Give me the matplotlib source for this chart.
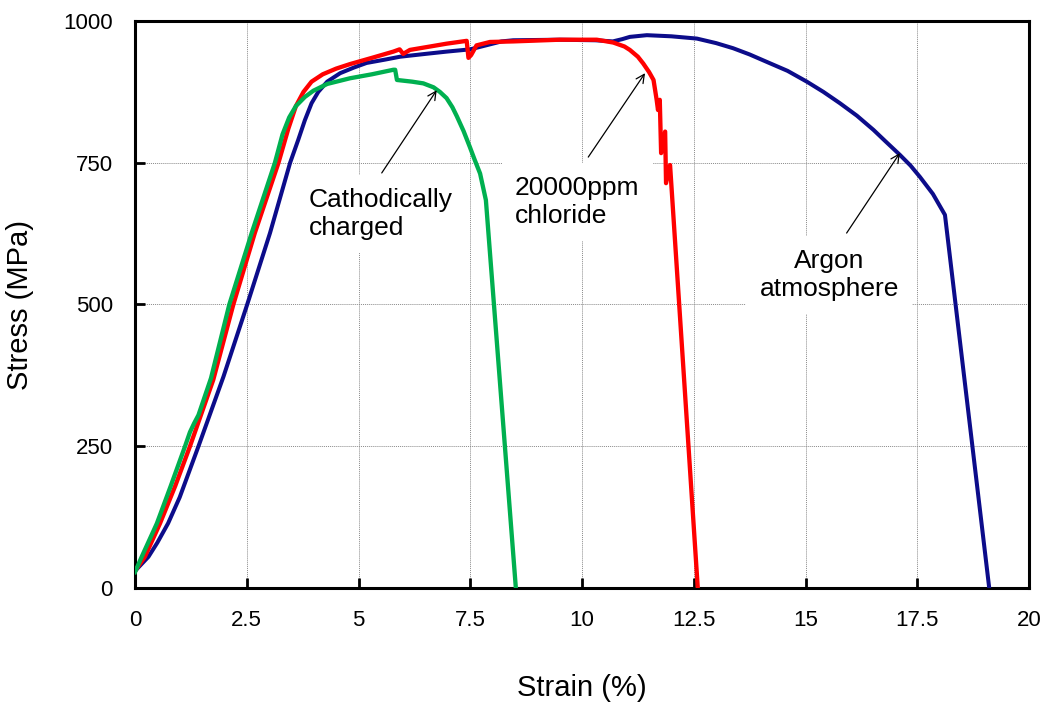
import matplotlib
matplotlib.use("Agg")
import matplotlib.pyplot as plt

plt.rcParams["font.family"] = ["Liberation Sans", "DejaVu Sans"]

# Tensile curves: strain (%) vs engineering stress (MPa)
argon_strain = [0, 0.3, 0.5, 0.74, 1.0, 1.42, 1.98, 2.51, 3.02, 3.47, 3.65, 3.8,
                3.95, 4.1, 4.3, 4.59, 4.9, 5.18, 5.6, 5.93, 6.5, 6.97, 7.5, 7.9,
                8.2, 8.46, 9.5, 10.3, 10.69, 10.9, 11.07, 11.45, 12.0, 12.57,
                13.0, 13.38, 13.75, 14.13, 14.6, 15.03, 15.4, 15.77, 16.15,
                16.52, 16.8, 17.11, 17.35, 17.56, 17.85, 18.12, 19.11]
argon_stress = [30, 55, 80, 114, 160, 250, 373, 500, 626, 750, 790, 825,
                855, 875, 893, 908, 918, 926, 932, 937, 942, 946, 950, 958,
                964, 966, 967, 966, 964, 968, 972, 975, 973, 969,
                961, 952, 941, 928, 912, 893, 875, 855, 833,
                808, 787, 764, 745, 725, 695, 658, 0]

chloride_strain = [0, 0.22, 0.56, 0.9, 1.23, 1.75, 2.2, 2.68, 3.21, 3.43, 3.6,
                   3.77, 3.95, 4.2, 4.5, 4.81, 5.3, 5.78, 5.92, 6.0, 6.15, 6.6,
                   6.97, 7.42, 7.46, 7.52, 7.64, 7.94, 8.46, 9.5, 10.33, 10.7,
                   10.95, 11.07, 11.25, 11.37, 11.5, 11.6, 11.67, 11.70, 11.74,
                   11.77, 11.86, 11.88, 11.97, 12.59]
chloride_stress = [30, 55, 114, 180, 250, 367, 500, 626, 750, 810, 850,
                   875, 893, 906, 916, 924, 935, 946, 950, 942, 949, 955,
                   960, 965, 935, 940, 957, 963, 964, 967, 967, 962,
                   955, 949, 937, 925, 910, 896, 861, 843, 861,
                   767, 805, 714, 746, 0]

cathodic_strain = [0, 0.15, 0.49, 0.8, 1.12, 1.23, 1.32, 1.42, 1.7, 2.11, 2.61,
                   3.13, 3.3, 3.45, 3.6, 3.8, 3.99, 4.3, 4.81, 5.3, 5.78, 5.82,
                   5.86, 6.2, 6.45, 6.68, 6.82, 6.97, 7.1, 7.2, 7.35, 7.49, 7.6,
                   7.72, 7.85, 8.52]
cathodic_stress = [28, 55, 114, 180, 250, 275, 290, 305, 370, 500, 626,
                   750, 800, 830, 850, 866, 877, 889, 899, 906, 914, 914,
                   896, 893, 890, 883, 875, 864, 848, 832, 806, 778, 755,
                   731, 684, 0]

x_ticks = [0, 2.5, 5, 7.5, 10, 12.5, 15, 17.5, 20]
x_tick_labels = ["0", "2.5", "5", "7.5", "10", "12.5", "15", "17.5", "20"]
y_ticks = [0, 250, 500, 750, 1000]
y_tick_labels = ["0", "250", "500", "750", "1000"]

fig = plt.figure(figsize=(10.46, 7.04), dpi=100)
ax = fig.add_axes([135 / 1046, 116 / 704, 894 / 1046, 567 / 704])

ax.plot(argon_strain, argon_stress, color="#0c0c8a", lw=2.9, zorder=3,
        solid_joinstyle="round")
ax.plot(chloride_strain, chloride_stress, color="#ff0000", lw=3.1, zorder=3,
        solid_joinstyle="round")
ax.plot(cathodic_strain, cathodic_stress, color="#00b050", lw=3.1, zorder=3,
        solid_joinstyle="round")

ax.set_xlim(0, 20)
ax.set_ylim(0, 1000)
ax.set_xticks(x_ticks)
ax.set_xticklabels(x_tick_labels)
ax.set_yticks(y_ticks)
ax.set_yticklabels(y_tick_labels)
ax.tick_params(direction="in", length=7, width=2, labelsize=16, pad=16,
               color="black")
for sp in ax.spines.values():
    sp.set_linewidth(2.2)
    sp.set_color("black")

ax.set_axisbelow(True)
ax.grid(True, color="#8a8a8a", linestyle=(0, (1, 1)), linewidth=0.7)

ax.set_xlabel("Strain (%)", fontsize=21, va="center")
ax.xaxis.set_label_coords(0.5, -0.176)
ax.set_ylabel("Stress (MPa)", fontsize=21, va="center")
ax.yaxis.set_label_coords(-0.1286, 0.5)

box = dict(facecolor="white", edgecolor="none", boxstyle="square,pad=0.5")
arrow = dict(arrowstyle="->,head_length=0.6,head_width=0.3", color="black",
             lw=0.9, shrinkA=0, shrinkB=0)

ax.text(3.88, 660, "Cathodically\ncharged", ha="left", va="center",
        fontsize=19, linespacing=1.2, bbox=box, zorder=2.5)
ax.annotate("", xy=(6.75, 878), xytext=(5.52, 732), arrowprops=arrow, zorder=4)

ax.text(8.5, 681, "20000ppm\nchloride", ha="left", va="center",
        fontsize=19, linespacing=1.2, bbox=box, zorder=2.5)
ax.annotate("", xy=(11.41, 908), xytext=(10.14, 760), arrowprops=arrow, zorder=4)

ax.text(15.53, 552, "Argon\natmosphere", ha="center", va="center",
        fontsize=19, linespacing=1.2, bbox=box, zorder=2.5)
ax.annotate("", xy=(17.11, 767), xytext=(15.92, 626), arrowprops=arrow, zorder=4)

fig.savefig("out.png", dpi=100)
